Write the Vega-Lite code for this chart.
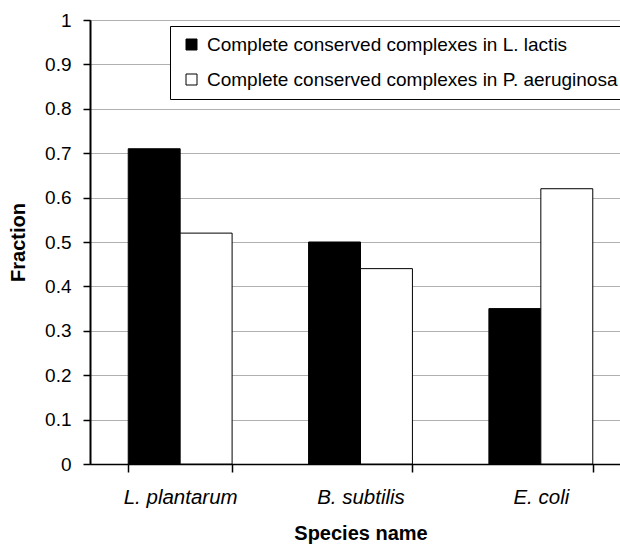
{
  "$schema": "https://vega.github.io/schema/vega-lite/v6.json",
  "autosize": {"type": "none"},
  "padding": {"left": 90, "top": 20, "right": 0, "bottom": 81},
  "width": 541,
  "height": 444,
  "background": "white",
  "config": {
    "font": "Liberation Sans",
    "view": {"stroke": "black", "strokeWidth": 1}
  },
  "data": {
    "values": [
      {"species": "L. plantarum", "series": "Complete conserved complexes in L. lactis", "fraction": 0.71},
      {"species": "L. plantarum", "series": "Complete conserved complexes in P. aeruginosa", "fraction": 0.52},
      {"species": "B. subtilis", "series": "Complete conserved complexes in L. lactis", "fraction": 0.50},
      {"species": "B. subtilis", "series": "Complete conserved complexes in P. aeruginosa", "fraction": 0.44},
      {"species": "E. coli", "series": "Complete conserved complexes in L. lactis", "fraction": 0.35},
      {"species": "E. coli", "series": "Complete conserved complexes in P. aeruginosa", "fraction": 0.62}
    ]
  },
  "mark": {"type": "bar", "stroke": "black", "strokeWidth": 1},
  "encoding": {
    "x": {
      "field": "species",
      "type": "nominal",
      "sort": ["L. plantarum", "B. subtilis", "E. coli"],
      "scale": {"paddingInner": 0.424, "paddingOuter": 0.212},
      "axis": {
        "title": "Species name",
        "titleFontSize": 20,
        "titleFontWeight": "bold",
        "titleColor": "black",
        "titlePadding": 16,
        "labelAngle": 0,
        "labelFontSize": 20.5,
        "labelFontStyle": "italic",
        "labelColor": "black",
        "labelPadding": 15,
        "tickBand": "extent",
        "tickSize": 8,
        "tickColor": "black",
        "tickWidth": 1.5,
        "domainColor": "black",
        "domainWidth": 1.5,
        "grid": false
      }
    },
    "xOffset": {
      "field": "series",
      "type": "nominal",
      "scale": {"paddingInner": 0, "paddingOuter": 0}
    },
    "y": {
      "field": "fraction",
      "type": "quantitative",
      "scale": {"domain": [0, 1], "nice": false},
      "axis": {
        "title": "Fraction",
        "titleFontSize": 20,
        "titleFontWeight": "bold",
        "titleColor": "black",
        "titlePadding": 16.5,
        "values": [0, 0.1, 0.2, 0.3, 0.4, 0.5, 0.6, 0.7, 0.8, 0.9, 1],
        "format": "~g",
        "labelFontSize": 19,
        "labelColor": "black",
        "labelPadding": 12,
        "tickSize": 7,
        "tickColor": "black",
        "tickWidth": 1.5,
        "domainColor": "black",
        "domainWidth": 2,
        "grid": true,
        "gridColor": "#b0b0b0",
        "gridWidth": 1
      }
    },
    "fill": {
      "field": "series",
      "type": "nominal",
      "scale": {"range": ["black", "white"]},
      "legend": {
        "title": null,
        "orient": "none",
        "legendX": 80,
        "legendY": 6,
        "fillColor": "white",
        "strokeColor": "black",
        "padding": 9,
        "rowPadding": 15,
        "symbolType": "square",
        "symbolSize": 121,
        "symbolOffset": 3,
        "symbolStrokeColor": "black",
        "symbolStrokeWidth": 1,
        "labelFontSize": 19,
        "labelColor": "black",
        "labelOffset": 6,
        "labelLimit": 600
      }
    }
  }
}
